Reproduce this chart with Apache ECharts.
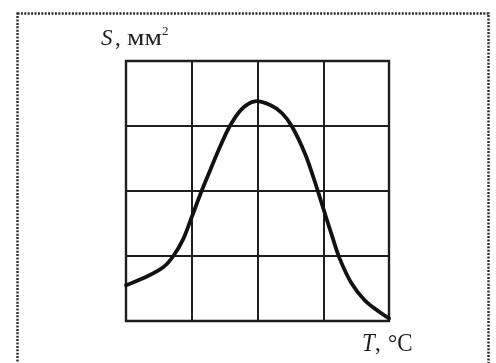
<!DOCTYPE html>
<html>
<head>
<meta charset="utf-8">
<script src="https://cdn.jsdelivr.net/npm/echarts@6/dist/echarts.min.js"></script>
<style>
  html, body { margin: 0; padding: 0; background: #fff; }
  #chart { width: 496px; height: 363px; }
</style>
</head>
<body>
<div id="chart"></div>
<script>
// Temperature (grid units) and area S (grid units) along the curve
const temperature = [0.0, 0.31, 0.57, 0.72, 0.87, 1.0, 1.15, 1.28, 1.43, 1.58, 1.76, 1.96,
                     2.2, 2.37, 2.52, 2.72, 2.87, 2.97, 3.13, 3.25, 3.43, 3.63, 3.84, 4.0];
const area        = [0.55, 0.68, 0.83, 1.0, 1.26, 1.6, 2.0, 2.32, 2.68, 3.0, 3.26, 3.38,
                     3.32, 3.2, 3.0, 2.58, 2.15, 1.83, 1.32, 0.96, 0.58, 0.32, 0.15, 0.04];

const serif = '"Liberation Serif", "DejaVu Serif", serif';
const ink = '#1e1e1e';

function label(text, x, y, size, italic, sx, sy) {
  return {
    type: 'text', x: x, y: y, scaleX: sx || 1, scaleY: sy || 1, silent: true,
    style: {
      text: text, fontFamily: serif, fontSize: size,
      fontStyle: italic ? 'italic' : 'normal', fill: ink,
      textAlign: 'left', textVerticalAlign: 'top'
    }
  };
}

// Smooth curve through the points (Catmull-Rom converted to cubic Bezier segments)
function renderCurve(params, api) {
  if (params.dataIndex !== 0) return null;
  const p = temperature.map((t, i) => api.coord([t, area[i]]));
  const n = p.length;
  let d = 'M' + p[0][0] + ' ' + p[0][1];
  for (let i = 0; i < n - 1; i++) {
    const a = p[Math.max(i - 1, 0)], b = p[i], c = p[i + 1], e = p[Math.min(i + 2, n - 1)];
    const c1x = b[0] + (c[0] - a[0]) / 6, c1y = b[1] + (c[1] - a[1]) / 6;
    const c2x = c[0] - (e[0] - b[0]) / 6, c2y = c[1] - (e[1] - b[1]) / 6;
    d += ' C' + c1x + ' ' + c1y + ' ' + c2x + ' ' + c2y + ' ' + c[0] + ' ' + c[1];
  }
  return {
    type: 'path',
    shape: { pathData: d },
    style: { fill: null, stroke: '#111', lineWidth: 3.8, lineCap: 'round', lineJoin: 'round' }
  };
}

const chart = echarts.init(document.getElementById('chart'), null, { renderer: 'canvas' });

chart.setOption({
  animation: false,
  backgroundColor: '#fff',
  grid: {
    left: 126, right: 107, top: 61, bottom: 42,
    show: true, borderColor: ink, borderWidth: 2.4
  },
  xAxis: {
    type: 'value', min: 0, max: 4, interval: 1,
    axisLine: { show: false }, axisTick: { show: false }, axisLabel: { show: false },
    splitLine: { show: true, lineStyle: { color: ink, width: 2 } }
  },
  yAxis: {
    type: 'value', min: 0, max: 4, interval: 1,
    axisLine: { show: false }, axisTick: { show: false }, axisLabel: { show: false },
    splitLine: { show: true, lineStyle: { color: ink, width: 2 } }
  },
  series: [{
    type: 'custom',
    clip: false,
    data: temperature.map((t, i) => [t, area[i]]),
    renderItem: renderCurve
  }],
  graphic: [
    {
      type: 'rect', silent: true,
      shape: { x: 17.5, y: 13.5, width: 471, height: 400 },
      style: { fill: 'none', stroke: '#2a2a2a', lineWidth: 2.4, lineDash: [2, 1.4] }
    },
    // S, мм²
    label('S', 101, 27, 23, true),
    label(',', 115, 27, 23, false),
    label('мм', 127, 27, 23, false, 1.2, 1),
    label('2', 162, 25, 13, false),
    // T, °C
    label('T', 362, 332, 23, true, 1, 1.08),
    label(',', 375, 332, 23, false, 1, 1.08),
    label('°C', 388, 332, 23, false, 1, 1.08)
  ]
});
</script>
</body>
</html>
